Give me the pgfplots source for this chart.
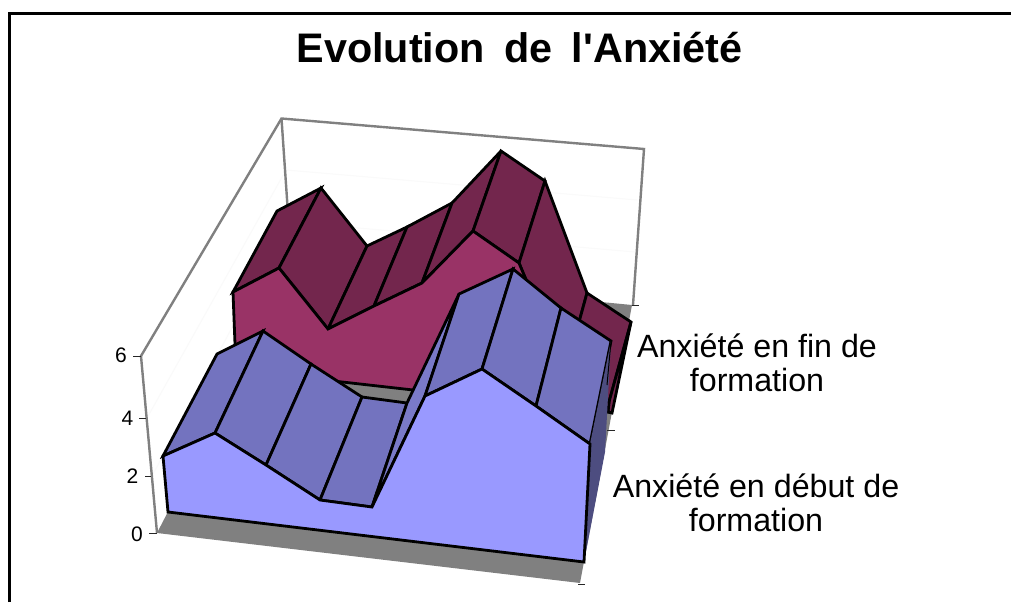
\documentclass[border=0pt]{standalone}
\usepackage{fontspec}
\setmainfont{Liberation Sans}
\newfontfamily\plainf{Liberation Sans}
\usepackage{pgfplots}
\pgfplotsset{compat=1.18}
\definecolor{bfront}{HTML}{9999FF}
\definecolor{btop}{HTML}{7373BF}
\definecolor{bstrip}{HTML}{7A7AC8}
\definecolor{bside}{HTML}{4D4D80}
\definecolor{mfront}{HTML}{993366}
\definecolor{mtop}{HTML}{73264D}
\definecolor{wallc}{HTML}{808080}
\begin{document}
\begin{tikzpicture}
\begin{axis}[
  scale only axis, width=1011pt, height=602pt,
  xmin=0, xmax=1011, ymin=0, ymax=602, y dir=reverse,
  axis lines=none, ticks=none, no markers,
  clip=true,
  every axis plot/.append style={line join=miter, miter limit=4, line cap=butt},
  quad/.style={draw=black, line width=2.8pt},
]
% background
\addplot[fill=white, draw=none] coordinates {(0,0)(1011,0)(1011,602)(0,602)} --cycle;
% frame
\addplot[draw=black, line width=3pt] coordinates {(9.5,602)(9.5,13.5)(1011,13.5)};
% faint gridlines
\addplot[draw=black!2, line width=1pt] coordinates {(147,418)(286,170)(637,200)};
\addplot[draw=black!2, line width=1pt] coordinates {(152,476)(289,222)(635,252)};
% floor
\addplot[fill=wallc, draw=none] coordinates {(157,533)(580,583)(632,305)(292,272)} --cycle;
% walls
\addplot[draw=wallc, line width=2.4pt] coordinates {(157,533)(141,356)(281.5,118.5)(644,149)(633,305)};
\addplot[draw=wallc, line width=2.4pt] coordinates {(281.5,118.5)(292,272)};
% ticks
\addplot[draw=black!85, line width=1pt] coordinates {(149,533)(157,533)};
\addplot[draw=black!85, line width=1pt] coordinates {(145,476)(151,476)};
\addplot[draw=black!85, line width=1pt] coordinates {(139,418)(146,418)};
\addplot[draw=black!85, line width=1pt] coordinates {(133,356)(141,356)};
\addplot[draw=black!85, line width=1pt] coordinates {(632,305.5)(639,305.5)};
\addplot[draw=black!85, line width=1pt] coordinates {(607,430)(615,430)};
\addplot[draw=black!85, line width=1pt] coordinates {(578,584)(585,584)};
% back series: Anxiete en fin de formation
\addplot[quad, fill=mtop] coordinates {(233,292)(279,268)(321,188)(277,211)} --cycle;
\addplot[quad, fill=mtop] coordinates {(279,268)(328,329)(367,246)(321,188)} --cycle;
\addplot[quad, fill=mtop] coordinates {(328,329)(374,306)(407,227)(367,246)} --cycle;
\addplot[quad, fill=mtop] coordinates {(374,306)(422,283)(452,203)(407,227)} --cycle;
\addplot[quad, fill=mtop] coordinates {(422,283)(473,231)(501,151)(452,203)} --cycle;
\addplot[quad, fill=mtop] coordinates {(473,231)(519,263)(545,181)(501,151)} --cycle;
\addplot[quad, fill=mtop] coordinates {(519,263)(565,373)(587,293)(545,181)} --cycle;
\addplot[quad, fill=mtop] coordinates {(565,373)(609,402)(631,322)(587,293)} --cycle;
\addplot[quad, fill=mtop] coordinates {(609,402)(631,322)(612,413)(608,412)} --cycle;
\addplot[quad, fill=mfront] coordinates {(233,292)(279,268)(328,329)(374,306)(422,283)(473,231)(519,263)(565,373)(609,402)(608,412)(236,370)} --cycle;
% front series: Anxiete en debut de formation
\addplot[quad, fill=btop] coordinates {(163,456)(215,433)(263,331)(217,354)} --cycle;
\addplot[quad, fill=btop] coordinates {(215,433)(266,465)(311,364)(263,331)} --cycle;
\addplot[quad, fill=btop] coordinates {(266,465)(320,500)(362,397)(311,364)} --cycle;
\addplot[quad, fill=btop] coordinates {(320,500)(372,507)(407,403)(362,397)} --cycle;
\addplot[quad, fill=bstrip] coordinates {(372,507)(425,396)(459,294)(407,403)} --cycle;
\addplot[quad, fill=btop] coordinates {(425,396)(482,369)(513,269)(459,294)} --cycle;
\addplot[quad, fill=btop] coordinates {(482,369)(536,406)(561,308)(513,269)} --cycle;
\addplot[quad, fill=btop] coordinates {(536,406)(590,444)(611,341)(561,308)} --cycle;
\addplot[fill=bside, draw=none] coordinates {(611,341)(605,452)(584,562)(590,444)} --cycle;
\addplot[draw=black, line width=1pt] coordinates {(611,341)(607,385)};
\addplot[quad, fill=bfront] coordinates {(163,456)(215,433)(266,465)(320,500)(372,507)(425,396)(482,369)(536,406)(590,444)(584,562)(168,512)} --cycle;
% texts
\node[font=\plainf\fontsize{41.3}{46}\bfseries\selectfont, anchor=base, inner sep=0pt] at (axis cs:519.5,63) {Evolution\hspace{8pt} de\hspace{8pt} l'Anxiété};
\node[font=\fontsize{21}{24}\selectfont, anchor=east, inner sep=0pt] at (axis cs:127,355) {6};
\node[font=\fontsize{21}{24}\selectfont, anchor=east, inner sep=0pt] at (axis cs:133.5,418) {4};
\node[font=\fontsize{21}{24}\selectfont, anchor=east, inner sep=0pt] at (axis cs:138.5,476) {2};
\node[font=\fontsize{21}{24}\selectfont, anchor=east, inner sep=0pt] at (axis cs:143,534) {0};
\node[font=\fontsize{32.2}{34}\selectfont, align=center, inner sep=0pt] at (axis cs:757,363) {Anxiété en fin de\\[0pt]formation};
\node[font=\fontsize{32.2}{34}\selectfont, align=center, inner sep=0pt] at (axis cs:756,503) {Anxiété en début de\\[0pt]formation};
\end{axis}
\end{tikzpicture}
\end{document}
